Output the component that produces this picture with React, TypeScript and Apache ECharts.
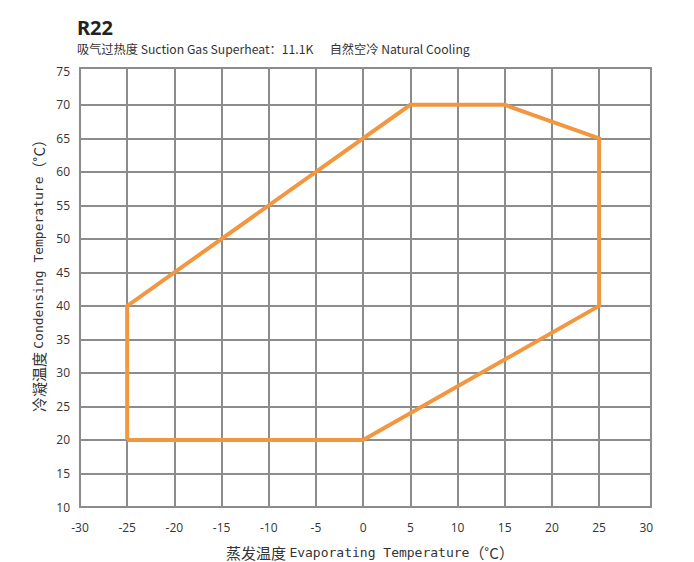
import React, { useEffect, useRef } from "react";
import * as echarts from "echarts";

// Operating envelope (polygon vertices, closed)
const evapTemps = [-25, 0, 25, 25, 15, 5, -25, -25];
const condTemps = [20, 20, 40, 65, 70, 70, 40, 20];

// Axis ranges / ticks
const xMin = -30;
const xMax = 30.5;
const yMin = 10;
const yMax = 75.5;
const tickStep = 5;
const xGridValues = [-25, -20, -15, -10, -5, 0, 5, 10, 15, 20, 25];
const yGridValues = [15, 20, 25, 30, 35, 40, 45, 50, 55, 60, 65, 70];

const titleText = "R22";
const subtitleText = "吸气过热度 Suction Gas Superheat：11.1K      自然空冷 Natural Cooling";
const xAxisTitleCn = "蒸发温度";
const xAxisTitleEn = "Evaporating Temperature";
const yAxisTitleCn = "冷凝温度";
const yAxisTitleEn = "Condensing Temperature";
const unitText = "（˚C）";

const GRID_COLOR = "#8c8c8c";
const LINE_COLOR = "#F2963F";
const MONO = "'DejaVu Sans Mono', 'Noto Sans CJK SC', monospace";
const CJK = "'Noto Sans CJK SC', sans-serif";

const axisTitleRich = {
  c: { fontFamily: CJK, fontSize: 15, fill: "#333", color: "#333" },
  l: { fontFamily: MONO, fontSize: 13, fill: "#333", color: "#333" },
};

export default function App() {
  const ref = useRef<HTMLDivElement>(null);
  useEffect(() => {
    if (!ref.current) return;
    const chart = echarts.init(ref.current, undefined, { renderer: "svg" });
    const points = evapTemps.map((x, i) => [x, condTemps[i]]);
    const isTick = (v: number) => Math.abs(v % tickStep) < 1e-9;
    chart.setOption({
      animation: false,
      backgroundColor: "#ffffff",
      title: {
        text: titleText,
        subtext: subtitleText,
        left: 77,
        top: 17,
        padding: 0,
        itemGap: 5,
        textStyle: {
          fontFamily: "'Noto Sans', 'Open Sans', sans-serif",
          fontWeight: "bold",
          fontSize: 20,
          lineHeight: 20,
          color: "#222",
        },
        subtextStyle: {
          fontFamily: "'Noto Sans CJK SC', 'Noto Sans', sans-serif",
          fontSize: 12.2,
          lineHeight: 13,
          color: "#333",
        },
      },
      grid: {
        left: 80,
        right: 43,
        top: 68,
        bottom: 55,
        show: true,
        borderColor: GRID_COLOR,
        borderWidth: 2,
        outerBoundsMode: "none",
      },
      xAxis: {
        type: "value",
        min: xMin,
        max: xMax,
        interval: tickStep,
        axisLine: { show: false },
        axisTick: { show: false },
        splitLine: { show: false },
        axisLabel: {
          margin: 14,
          fontSize: 12,
          color: "#333",
          fontFamily: "'Open Sans', 'Noto Sans', sans-serif",
          formatter: (v: number) => (isTick(v) ? String(v) : ""),
          showMaxLabel: true,
        },
      },
      yAxis: {
        type: "value",
        min: yMin,
        max: yMax,
        interval: tickStep,
        axisLine: { show: false },
        axisTick: { show: false },
        splitLine: { show: false },
        axisLabel: {
          margin: 10,
          fontSize: 12,
          color: "#333",
          fontFamily: "'Open Sans', 'Noto Sans', sans-serif",
          formatter: (v: number) => (isTick(v) ? String(v) : ""),
        },
      },
      graphic: [
        {
          type: "text",
          x: 38,
          y: 272,
          rotation: Math.PI / 2,
          style: {
            text: `{c|${yAxisTitleCn}} {l|${yAxisTitleEn}}{c|${unitText}}`,
            rich: axisTitleRich,
            fill: "#333",
            align: "center",
            verticalAlign: "middle",
          },
        },
        {
          type: "text",
          x: 370,
          y: 552,
          style: {
            text: `{c|${xAxisTitleCn}} {l|${xAxisTitleEn}}{c|${unitText}}`,
            rich: axisTitleRich,
            fill: "#333",
            align: "center",
            verticalAlign: "middle",
          },
        },
      ],
      series: [
        {
          type: "line",
          data: [],
          silent: true,
          z: 1,
          markLine: {
            silent: true,
            symbol: "none",
            animation: false,
            label: { show: false },
            lineStyle: { color: GRID_COLOR, width: 2, type: "solid" },
            emphasis: { disabled: true },
            data: [
              ...xGridValues.map((v) => ({ xAxis: v })),
              ...yGridValues.map((v) => ({ yAxis: v })),
            ],
          },
        },
        {
          type: "line",
          data: points,
          z: 5,
          symbol: "none",
          silent: true,
          lineStyle: { color: LINE_COLOR, width: 4, join: "miter" },
        },
      ],
    });
    return () => chart.dispose();
  }, []);
  return (
    <div
      ref={ref}
      style={{ position: "fixed", left: 0, top: 0, width: 694, height: 562 }}
    />
  );
}
